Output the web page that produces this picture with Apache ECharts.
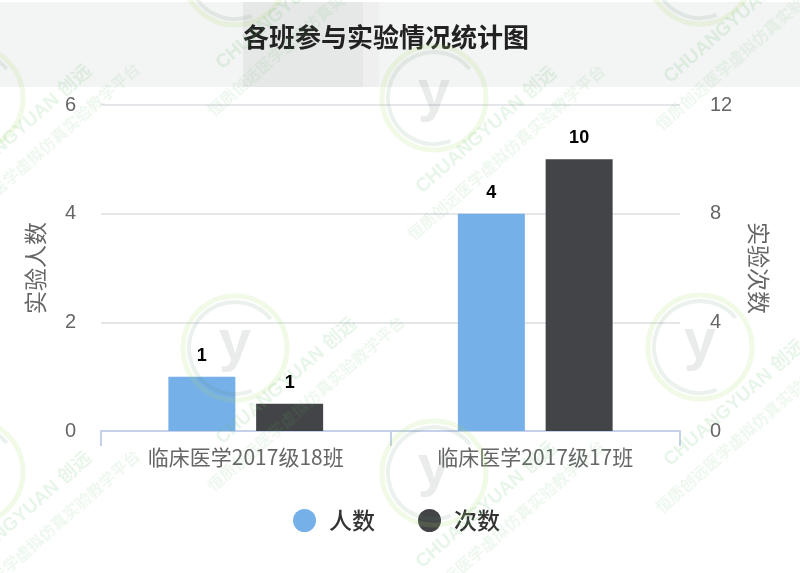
<!DOCTYPE html>
<html><head><meta charset="utf-8">
<style>html,body{margin:0;padding:0;background:#fff}#c{width:800px;height:573px}</style>
<script src="https://cdn.jsdelivr.net/npm/echarts@6/dist/echarts.min.js"></script>
</head><body><div id="c"></div>
<script>
const categories = ['临床医学2017级18班', '临床医学2017级17班'];
const peopleCounts = [1, 4];
const experimentCounts = [1, 10];
const titleText = '各班参与实验情况统计图';
const FONT = '"Noto Sans CJK SC","Noto Sans",sans-serif';
const LATIN = '"Liberation Sans",sans-serif';
const ringCenters = [[-29,98],[235,-27],[434,98],[700,-28],[235,348],[700,347],[-29,472],[434,473]];
const textStarts = [[-40,195],[-40,582],[225,73],[225,448],[425,197],[425,572],[673,87],[673,470]];

const watermark = [];
ringCenters.forEach(([x,y]) => {
  watermark.push({type:'circle',z:50,silent:true,shape:{cx:x,cy:y,r:52},style:{fill:'none',stroke:'#a5d86a',lineWidth:5,opacity:0.16}});
  watermark.push({type:'arc',z:50,silent:true,shape:{cx:x,cy:y,r:46,startAngle:1.2,endAngle:5.6},style:{fill:'none',stroke:'#5a8f6a',lineWidth:4,opacity:0.12}});
  watermark.push({type:'text',z:50,silent:true,x:x,y:y-4,style:{text:'y',fill:'#5f6f66',opacity:0.13,fontSize:58,fontWeight:'bold',fontFamily:'Liberation Sans',align:'center',verticalAlign:'middle'}});
});
textStarts.forEach(([x,y]) => {
  watermark.push({type:'text',z:50,silent:true,x:x,y:y,rotation:0.72,style:{text:'CHUANGYUAN 创远',fill:'#66bb6a',opacity:0.15,fontSize:19,fontWeight:'bold',fontFamily:'"Liberation Sans","Noto Sans CJK SC",sans-serif',align:'left',verticalAlign:'bottom'}});
  watermark.push({type:'text',z:50,silent:true,x:x-10,y:y+46,rotation:0.72,style:{text:'恒质创远医学虚拟仿真实验教学平台',fill:'#66bb6a',opacity:0.11,fontSize:16,fontWeight:'bold',fontFamily:FONT,align:'left',verticalAlign:'bottom'}});
});

const chart = echarts.init(document.getElementById('c'), null, {renderer:'canvas'});
const barLabel = {show:true,position:'top',distance:12,color:'#000',fontSize:18,fontWeight:'bold',fontFamily:LATIN};
chart.setOption({
  animation:false,
  backgroundColor:'#fff',
  title:{text:titleText,left:381,top:19,textAlign:'center',textStyle:{fontSize:26,fontWeight:'bold',color:'#222',fontFamily:FONT}},
  graphic:[
    {type:'rect',z:-10,silent:true,shape:{x:0,y:2,width:800,height:85},style:{fill:'#f3f4f4'}},
    {type:'rect',z:-9,silent:true,shape:{x:243,y:2,width:120,height:85},style:{fill:'#e6e8e7'}},
    {type:'rect',z:-9,silent:true,shape:{x:363,y:2,width:16,height:85},style:{fill:'#eeefee'}},
    ...watermark
  ],
  legend:{
    data:[{name:'人数'},{name:'次数'}],
    left:288,top:504,icon:'circle',itemWidth:23,itemHeight:23,itemGap:43,
    textStyle:{fontSize:23,color:'#333',fontWeight:500,fontFamily:FONT,padding:[2,0,0,8]}
  },
  grid:{left:101,right:120,top:105,bottom:142},
  xAxis:{
    type:'category',data:categories,
    axisLine:{lineStyle:{color:'#c5d0ea',width:2}},
    axisTick:{show:true,length:15,lineStyle:{color:'#c5d0ea',width:2},alignWithLabel:false},
    axisLabel:{color:'#666',fontSize:21,margin:16,fontFamily:FONT}
  },
  yAxis:[
    {type:'value',min:0,max:6,interval:2,name:'实验人数',nameLocation:'middle',nameGap:54,nameRotate:90,
     nameTextStyle:{color:'#666',fontSize:23,fontFamily:FONT},
     axisLine:{show:false},axisTick:{show:false},
     axisLabel:{color:'#666',fontSize:20,margin:25,padding:[6,0,0,0],fontFamily:LATIN},
     splitLine:{lineStyle:{color:'#e4e6ea',width:2}}},
    {type:'value',min:0,max:12,interval:4,name:'实验次数',nameLocation:'middle',nameGap:67,nameRotate:-90,
     nameTextStyle:{color:'#666',fontSize:23,fontFamily:FONT},
     axisLine:{show:false},axisTick:{show:false},
     axisLabel:{color:'#666',fontSize:20,margin:30,padding:[6,0,0,0],fontFamily:LATIN},
     splitLine:{show:false}}
  ],
  series:[
    {name:'人数',type:'bar',yAxisIndex:0,data:peopleCounts,barWidth:67,barGap:'31%',itemStyle:{color:'#76b0e8'},label:barLabel},
    {name:'次数',type:'bar',yAxisIndex:1,data:experimentCounts,barWidth:67,itemStyle:{color:'#434447'},label:barLabel}
  ]
});
</script></body></html>
